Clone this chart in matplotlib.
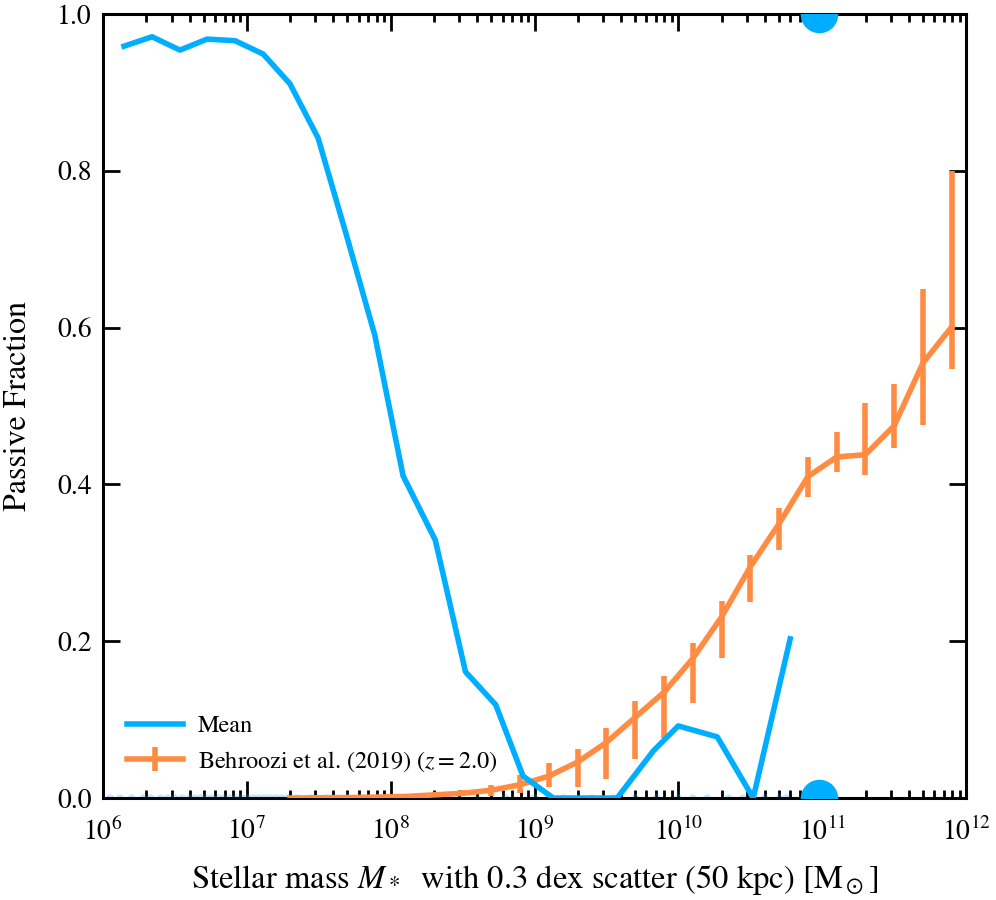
import numpy as np
import matplotlib
matplotlib.use("Agg")
import matplotlib.pyplot as plt
from matplotlib.ticker import LogLocator, MultipleLocator, NullLocator

plt.rcParams['font.family'] = ['STIXGeneral', 'DejaVu Serif']
plt.rcParams['mathtext.fontset'] = 'stix'

# Mean passive fraction (log10 stellar mass, fraction)
mean_logm = [6.146, 6.341, 6.535, 6.723, 6.918, 7.113, 7.30, 7.495, 7.697, 7.89,
             8.086, 8.31, 8.52, 8.73, 8.92, 9.13, 9.574, 9.825, 9.999, 10.27,
             10.52, 10.777]
mean_frac = [0.959, 0.971, 0.954, 0.968, 0.966, 0.949, 0.911, 0.842, 0.715, 0.590,
             0.411, 0.329, 0.161, 0.119, 0.028, 0.0, 0.0, 0.060, 0.092, 0.078,
             0.0, 0.203]

# Individual objects (log10 mass, passive flag)
obj_logm = [6.05, 6.12, 6.2, 6.28, 6.33, 6.4, 6.45, 6.5, 6.55, 6.6, 6.64, 6.68,
            6.72, 6.76, 6.8, 6.84, 6.88, 6.92, 6.96, 7.0, 7.04, 7.08, 7.12, 7.16,
            7.2, 7.24, 7.28, 7.35, 7.45, 7.55, 7.7, 7.85, 8.0, 8.2, 8.4, 8.6,
            8.8, 9.0, 9.2, 9.4, 9.55, 9.7, 9.85, 10.0, 10.1, 10.2, 10.35, 10.45,
            10.6, 10.7, 10.75]
obj_frac = [0.0] * len(obj_logm)

# Large objects
big_logm = [10.98, 10.98]
big_frac = [0.0, 1.0]

# Behroozi et al. (2019), z = 2.0
beh_logm = [7.3, 7.5, 7.7, 7.9, 8.1, 8.3, 8.5, 8.7, 8.9, 9.1, 9.3, 9.5, 9.7, 9.9,
            10.1, 10.3, 10.5, 10.7, 10.9, 11.1, 11.3, 11.5, 11.7, 11.9]
beh_frac = [0.0, 0.0003, 0.0006, 0.0012, 0.002, 0.004, 0.006, 0.010, 0.017, 0.028,
            0.046, 0.071, 0.103, 0.135, 0.178, 0.231, 0.295, 0.350, 0.410, 0.435,
            0.438, 0.475, 0.555, 0.601]
beh_hi = [0.0, 0.0006, 0.001, 0.002, 0.004, 0.007, 0.010, 0.017, 0.030, 0.045,
          0.0625, 0.089, 0.124, 0.156, 0.198, 0.251, 0.310, 0.370, 0.435, 0.467,
          0.504, 0.528, 0.649, 0.800]
beh_lo = [0.0, 0.0, 0.0002, 0.0005, 0.001, 0.002, 0.003, 0.003, 0.006, 0.014,
          0.014, 0.024, 0.050, 0.077, 0.121, 0.179, 0.250, 0.316, 0.384, 0.416,
          0.412, 0.446, 0.476, 0.547]

blue = '#00AEFF'
orange = '#FF8C42'

fig = plt.figure(figsize=(9.96, 9.0), dpi=100)
ax = fig.add_axes([0.1034, 0.1133, 0.8666, 0.8711])

m_mean = 10 ** np.array(mean_logm)
ax.scatter(10 ** np.array(obj_logm), obj_frac, s=30, color=blue, alpha=0.25,
           edgecolors='none', zorder=2)
ax.plot(10 ** np.array(big_logm), big_frac, 'o', ms=27, color=blue, mec='none',
        zorder=3)
ax.plot(m_mean, mean_frac, '-', color=blue, lw=4.0, label='Mean', zorder=4)

bm = 10 ** np.array(beh_logm)
bf = np.array(beh_frac)
yerr = np.vstack([bf - np.array(beh_lo), np.array(beh_hi) - bf])
ax.errorbar(bm, bf, yerr=yerr, color=orange, lw=4.0, elinewidth=4.0, capsize=0,
            label=r'Behroozi et al. (2019) ($z = 2.0$)', zorder=3)

ax.set_xscale('log')
ax.set_xlim(1e6, 1e12)
ax.set_ylim(0, 1)
ax.yaxis.set_major_locator(MultipleLocator(0.2))
ax.yaxis.set_minor_locator(NullLocator())
ax.xaxis.set_major_locator(LogLocator(base=10, numticks=20))
ax.xaxis.set_minor_locator(LogLocator(base=10, subs=np.arange(2, 10), numticks=20))

for s in ax.spines.values():
    s.set_linewidth(2.2)
ax.tick_params(which='both', direction='in', top=True, right=True, width=2.0)
ax.tick_params(which='major', length=12, labelsize=20)
ax.tick_params(axis='x', which='major', pad=14)
ax.tick_params(axis='y', which='major', pad=8)
ax.tick_params(which='minor', length=6)

ax.set_xlabel(r'Stellar mass $M_*$  with 0.3 dex scatter (50 kpc) [$\mathrm{M}_\odot$]',
              fontsize=23.5, labelpad=12)
ax.set_ylabel('Passive Fraction', fontsize=23)
ax.yaxis.set_label_coords(-0.081, 0.5)

ax.legend(loc='lower left', frameon=False, fontsize=17.5, handlelength=2.3,
          borderaxespad=0.6, handletextpad=0.6, labelspacing=0.5)

fig.savefig('out.png', dpi=100)
